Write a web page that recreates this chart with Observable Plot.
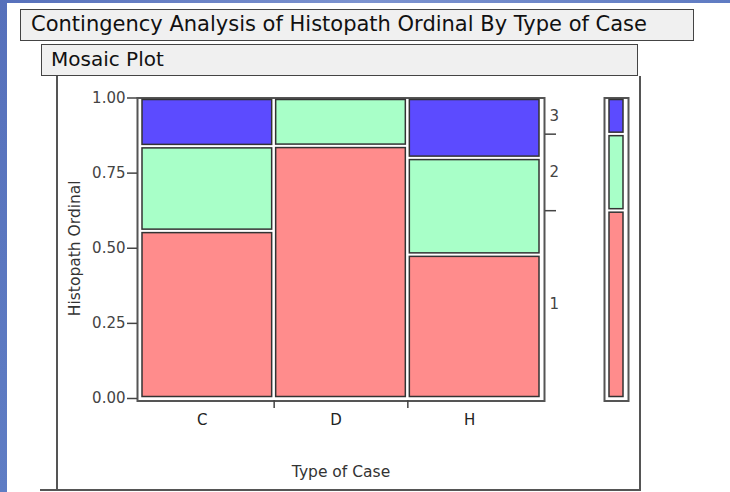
<!DOCTYPE html>
<html><head><meta charset="utf-8">
<script src="https://cdn.jsdelivr.net/npm/d3@7"></script>
<script src="https://cdn.jsdelivr.net/npm/@observablehq/plot@0.6"></script>
<style>
body{margin:0;background:#fff;}
#wrap{position:relative;width:730px;height:492px;overflow:hidden;background:#fff;font-family:"DejaVu Sans",sans-serif;}
.stripL{position:absolute;left:0;top:0;width:7px;height:492px;background:linear-gradient(#5670bb,#5f7dc4);}
.stripT{position:absolute;left:0;top:0;width:730px;height:3px;background:linear-gradient(90deg,#5670bb,#7c93d0,#5f7bc2);}
.box{position:absolute;box-sizing:border-box;background:#f0f0f0;border:1.5px solid #444;color:#111;white-space:nowrap;}
#title{left:20px;top:9px;width:674px;height:32px;font-size:21px;line-height:29px;padding-left:10px;}
#sub{left:41px;top:44px;width:597px;height:32px;font-size:20px;line-height:29px;padding-left:9px;}
.ln{position:absolute;background:#555;}
#main,#marg{position:absolute;top:0;}
#main{left:0;}
#marg{left:597px;}
</style></head><body>
<div id="wrap">
  <div class="stripL"></div><div class="stripT"></div>
  <div class="ln" style="left:56px;top:76px;width:2px;height:415px"></div>
  <div class="ln" style="left:639px;top:76px;width:2px;height:415px"></div>
  <div class="ln" style="left:40px;top:489px;width:601px;height:2px"></div>
  <div id="title" class="box">Contingency Analysis of Histopath Ordinal By Type of Case</div>
  <div id="sub" class="box">Mosaic Plot</div>
  <div id="main"></div>
  <div id="marg"></div>
</div>
<script>
// ---- data ----
const cases = ["C", "D", "H"];
const caseWeights = [1, 1, 1];           // column widths (equal)
const levels = ["1", "2", "3"];
const share1 = [0.557, 0.840, 0.478];    // Histopath Ordinal = 1
const share2 = [0.282, 0.160, 0.322];    // = 2
const share3 = [0.161, 0.000, 0.200];    // = 3
const levelColors = ["#ff8c8c", "#a8ffc8", "#5c4bff"];
const yTicks = [0, 0.25, 0.5, 0.75, 1];

// ---- build mosaic cells ----
const shares = [share1, share2, share3];
const total = d3.sum(caseWeights);
const cells = [];
const colBounds = [];
const colCenters = [];
let cx = 0;
cases.forEach((c, i) => {
  const x1 = cx / total, x2 = (cx + caseWeights[i]) / total;
  cx += caseWeights[i];
  colCenters.push({c, x: (x1 + x2) / 2});
  if (i < cases.length - 1) colBounds.push(x2);
  let cy = 0;
  levels.forEach((l, j) => {
    const v = shares[j][i];
    if (v > 0) cells.push({c, l, x1, x2, y1: cy, y2: cy + v});
    cy += v;
  });
});
// marginal distribution of levels
const margCells = [];
const margMid = [];
const margBounds = [];
let my = 0;
levels.forEach((l, j) => {
  const m = d3.sum(caseWeights.map((w, i) => w * shares[j][i])) / total;
  margCells.push({l, y1: my, y2: my + m});
  margMid.push({l, y: my + m / 2});
  my += m;
  if (j < levels.length - 1) margBounds.push(my);
});

const colorScale = {domain: levels, range: levelColors};
const font = {fontSize: "15px", fontFamily: "DejaVu Sans, sans-serif", color: "#444", background: "transparent", overflow: "visible"};

const main = Plot.plot({
  width: 730, height: 492,
  marginLeft: 140, marginRight: 189, marginTop: 97.5, marginBottom: 94,
  style: font,
  x: {domain: [0, 1], axis: null},
  y: {domain: [0, 1], axis: null},
  color: colorScale,
  marks: [
    Plot.frame({stroke: "#555", strokeWidth: 2, insetLeft: -3, insetRight: -3, insetTop: 0, insetBottom: -2.5}),
    Plot.rect(cells, {x1: "x1", x2: "x2", y1: "y1", y2: "y2", fill: "l", stroke: "#333", strokeWidth: 1.5,
      insetLeft: 2, insetRight: 2, insetTop: 2, insetBottom: 1.5}),
    Plot.axisY({ticks: yTicks, tickFormat: d3.format(".2f"), tickSize: 10, tickPadding: 2, dx: -3, stroke: "#444", strokeWidth: 1.5, fontSize: 15, label: null}),
    Plot.text(["Histopath Ordinal"], {frameAnchor: "left", rotate: -90, textAnchor: "middle", dx: -65, fill: "#333", fontSize: 15.5}),
    Plot.axisX(colBounds, {tickFormat: () => "", tickSize: 8, dy: 2, stroke: "#444", strokeWidth: 1.5, label: null}),
    Plot.text(colCenters, {x: "x", text: "c", frameAnchor: "bottom", dy: 26, dx: -5, fill: "#222", fontSize: 15}),
    Plot.text(["Type of Case"], {frameAnchor: "bottom", dy: 78, fill: "#333", fontSize: 15.5}),
    Plot.axisY(margBounds, {anchor: "right", tickFormat: () => "", tickSize: 11, dx: 3, stroke: "#444", strokeWidth: 1.5, label: null}),
    Plot.text(margMid, {y: "y", text: "l", frameAnchor: "right", dx: 8, textAnchor: "start", fill: "#444", fontSize: 15})
  ]
});
document.getElementById("main").append(main);

const marg = Plot.plot({
  width: 38, height: 492,
  marginLeft: 10, marginRight: 10, marginTop: 97.5, marginBottom: 94,
  style: font,
  x: {domain: [0, 1], axis: null},
  y: {domain: [0, 1], axis: null},
  color: colorScale,
  marks: [
    Plot.frame({stroke: "#555", strokeWidth: 2, insetLeft: -3, insetRight: -3, insetTop: 0, insetBottom: -2.5}),
    Plot.rect(margCells, {x1: 0, x2: 1, y1: "y1", y2: "y2", fill: "l", stroke: "#333", strokeWidth: 1.5,
      insetLeft: 2, insetRight: 2, insetTop: 2, insetBottom: 1.5})
  ]
});
document.getElementById("marg").append(marg);
</script>
</body></html>
